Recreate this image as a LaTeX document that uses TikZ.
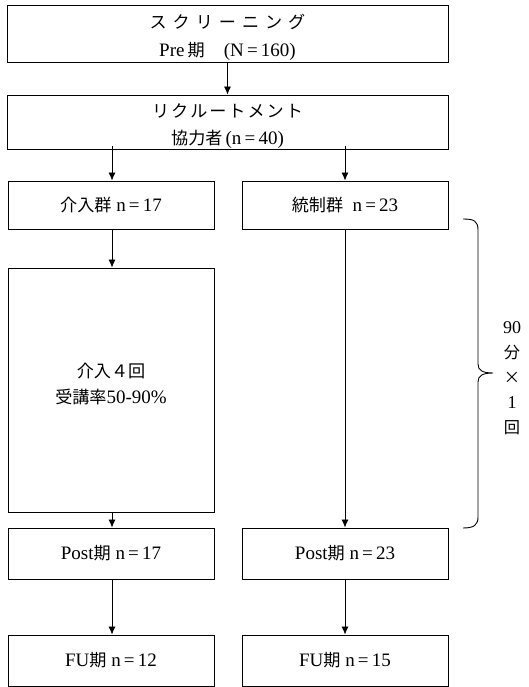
\documentclass[tikz,border=0pt]{standalone}
\usepackage{fontspec}
\setmainfont{Liberation Serif}
\newfontfamily\jp[Scale=0.9]{Noto Sans CJK JP}
\usetikzlibrary{arrows.meta}
\newcommand{\J}[1]{{\jp #1}}
\newcommand{\gapA}{\hspace{6pt}}
\newcommand{\gapB}{\hspace{2pt}}
\newcommand{\tallstrut}{\rule{0pt}{23pt}}
\begin{document}
\begin{tikzpicture}[x=1pt,y=-1pt,
  box/.style={draw, line width=0.9pt, minimum width=#1, inner sep=0pt, align=center,
    font=\fontsize{19}{28}\selectfont},
  box/.default=441pt,
  arr/.style={draw, line width=0.8pt, -{Latex[length=8pt,width=7pt]}},
  ln/.style={draw, line width=0.9pt}]
\useasboundingbox (0,0) rectangle (529,687);
\node[box, minimum height=57pt] (scr) at (227.5,33.5)
  {\tallstrut\J{ス\gapA ク\gapA リ\gapA ー\gapA ニ\gapA ン\gapA グ}\\Pre\,\J{期}\quad(N\,=\,160)};
\node[box, minimum height=50pt, font=\fontsize{19}{27}\selectfont] (rec) at (227.5,122)
  {\tallstrut\J{リ\gapB ク\gapB ル\gapB ー\gapB ト\gapB メ\gapB ン\gapB ト}\\\J{協力者}\,(n\,=\,40)};
\node[box=206pt, minimum height=48pt] (int) at (111,205) {\J{介入群} n\,=\,17};
\node[box=206pt, minimum height=48pt] (ctl) at (345,205) {\J{統制群}\ \ n\,=\,23};
\node[box=206pt, minimum height=244pt, text depth=14pt, font=\fontsize{19}{26}\selectfont] (ses) at (111,390)
  {\J{介入４回}\\\J{受講率}50-90\%};
\node[box=206pt, minimum height=51pt] (posti) at (111,553.5) {Post\J{期} n\,=\,17};
\node[box=206pt, minimum height=51pt] (postc) at (345,553.5) {Post\J{期} n\,=\,23};
\node[box=206pt, minimum height=51pt] (fui) at (111,660.5) {FU\J{期} n\,=\,12};
\node[box=206pt, minimum height=51pt] (fuc) at (345,660.5) {FU\J{期} n\,=\,15};

\coordinate (t1) at (112,146.5);
\coordinate (t2) at (345,146.5);
\path[arr] (scr.south) -- (rec.north);
\path[arr] (t1) -- (int.north -| t1);
\path[arr] (t2) -- (ctl.north -| t2);
\path[arr] (int.south -| t1) -- (ses.north -| t1);
\path[arr] (ses.south -| t1) -- (posti.north -| t1);
\path[arr] (ctl.south) -- (postc.north);
\path[arr] (posti.south -| t1) -- (fui.north -| t1);
\path[arr] (postc.south) -- (fuc.north);

% brace
\coordinate (bt) at (463,219);
\coordinate (bm) at (493,373);
\coordinate (bb) at (463,528);
\path[ln] (bt) .. controls (474,219) and (478,221) .. (478,230) -- (478,364)
  .. controls (478,370) and (482,373) .. (bm)
  .. controls (482,373) and (478,376) .. (478,382) -- (478,517)
  .. controls (478,525) and (474,528) .. (bb);
\node[align=center, inner sep=0pt, font=\fontsize{18}{25}\selectfont] (lab) at (512,378)
  {90\\\J{分}\\\J{×}\\1\\\J{回}};
\end{tikzpicture}
\end{document}
